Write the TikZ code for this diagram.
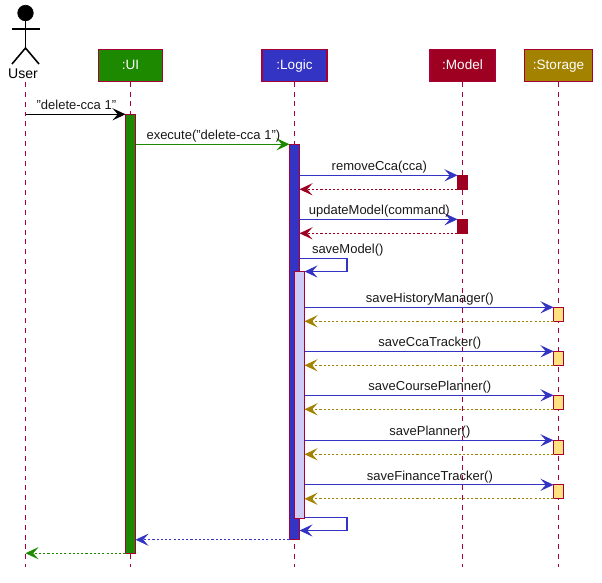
\documentclass[tikz,border=0pt]{standalone}
\usepackage{fontspec}
\setmainfont{Liberation Sans}
\usetikzlibrary{arrows.meta}
\definecolor{edgered}{HTML}{A80036}
\definecolor{uigreen}{HTML}{1D8900}
\definecolor{logicblue}{HTML}{3333C4}
\definecolor{logicpale}{HTML}{CCCCF7}
\definecolor{modelred}{HTML}{9D0020}
\definecolor{storegold}{HTML}{A38200}
\definecolor{storepale}{HTML}{FFE17F}
\tikzset{
	tip/.tip={Stealth[length=7.4pt,width=6.9pt,inset=3pt]},
	headbox/.style={draw=edgered,line width=0.8pt,text=white,minimum height=0.65cm,inner sep=0pt,outer sep=0pt,text height=6pt,text depth=1.6pt,font=\fontsize{7.7}{9}\selectfont},
	lifeline/.style={draw=edgered,line width=0.7pt,dash pattern=on 2.8pt off 2.8pt},
	bar/.style={draw=edgered,line width=0.7pt,minimum width=0.2cm,inner sep=0pt,outer sep=0pt,anchor=north},
	call/.style={line width=0.6pt,-tip},
	back/.style={line width=0.6pt,-tip,dash pattern=on 1.2pt off 1.2pt},
	msgtext/.style={text=black!90,inner sep=0pt,outer sep=0pt,text depth=1.6pt,font=\fontsize{7.4}{9}\selectfont},
	msg/.style={msgtext,above=0.95pt,midway,xshift=0.5pt}
}
\begin{document}
\begin{tikzpicture}[x=0.02cm,y=-0.02cm]
	\useasboundingbox (0,0) rectangle (602,582);
	
	\node[circle,fill=black,draw=black,minimum size=0.31cm,inner sep=0pt] at (25.5,13) (userhead) {};
	\coordinate (userhip) at (25.5,48);
	\coordinate (armleft) at (11.5,29);
	\coordinate (armright) at (39.5,29);
	\coordinate (footleft) at (12,64);
	\coordinate (footright) at (39,64);
	\draw[line width=0.9pt] (userhead) -- (userhip);
	\draw[line width=0.9pt] (armleft) -- (armright);
	\draw[line width=0.9pt] (footleft) -- (userhip) -- (footright);
	\node[inner sep=0pt,outer sep=0pt,font=\fontsize{8}{9}\selectfont] at (23,74) (user) {User};
	
	\node[headbox,fill=uigreen,minimum width=1.28cm] at (130.5,65.5) (ui) {:UI};
	\node[headbox,fill=logicblue,minimum width=1.3cm] at (294.5,65.5) (logic) {:Logic};
	\node[headbox,fill=modelred,minimum width=1.3cm] at (462.5,65.5) (model) {:Model};
	\node[headbox,fill=storegold,minimum width=1.37cm] at (558.5,65.5) (storage) {:Storage};
	
	\coordinate (userstart) at (25.5,82);
	\coordinate (userend) at (25.5,567);
	\coordinate (uiend) at (130.5,567);
	\coordinate (logicend) at (294.5,567);
	\coordinate (modelend) at (462.5,567);
	\coordinate (storageend) at (558.5,567);
	\draw[lifeline] (userstart) -- (userend);
	\draw[lifeline] (ui) -- (uiend);
	\draw[lifeline] (logic) -- (logicend);
	\draw[lifeline] (model) -- (modelend);
	\draw[lifeline] (storage) -- (storageend);
	
	\node[bar,fill=uigreen,minimum height=8.78cm] at (130.5,114.3) (uibar) {};
	\node[bar,fill=logicblue,minimum height=7.91cm] at (294.5,144.3) (logicbar) {};
	\node[bar,fill=logicpale,minimum height=4.94cm] at (299.5,271.5) (savebar) {};
	\node[bar,fill=modelred,draw=modelred,minimum height=0.28cm] at (462.5,175.3) (modelone) {};
	\node[bar,fill=modelred,draw=modelred,minimum height=0.28cm] at (462.5,219.3) (modeltwo) {};
	\node[bar,fill=storepale,minimum height=0.28cm] at (558.5,307.3) (storeone) {};
	\node[bar,fill=storepale,minimum height=0.28cm] at (558.5,351.3) (storetwo) {};
	\node[bar,fill=storepale,minimum height=0.28cm] at (558.5,395.3) (storethree) {};
	\node[bar,fill=storepale,minimum height=0.28cm] at (558.5,440.3) (storefour) {};
	\node[bar,fill=storepale,minimum height=0.28cm] at (558.5,484.8) (storefive) {};
	
	\draw[call,black] (userend |- uibar.north) -- node[msg] {"delete-cca 1"} (uibar.north west);
	\draw[call,uigreen] (uibar.east |- logicbar.north) -- node[msg] {execute("delete-cca 1")} (logicbar.north west);
	
	\draw[call,logicblue] (logicbar.east |- modelone.north) -- node[msg] {removeCca(cca)} (modelone.north west);
	\draw[back,modelred] (modelone.south west) -- (logicbar.east |- modelone.south);
	\draw[call,logicblue] (logicbar.east |- modeltwo.north) -- node[msg] {updateModel(command)} (modeltwo.north west);
	\draw[back,modelred] (modeltwo.south west) -- (logicbar.east |- modeltwo.south);
	
	\coordinate (selftop) at (347,258.5);
	\coordinate (selfbottom) at (347,271.5);
	\draw[call,logicblue] (logicbar.east |- selftop) -- (selftop) -- (selfbottom) -- (savebar.north east);
	\node[msgtext,anchor=south west] at (312,256.2) (savemodel) {saveModel()};
	
	\draw[call,logicblue] (savebar.east |- storeone.north) -- node[msg] {saveHistoryManager()} (storeone.north west);
	\draw[back,storegold] (storeone.south west) -- (savebar.east |- storeone.south);
	\draw[call,logicblue] (savebar.east |- storetwo.north) -- node[msg] {saveCcaTracker()} (storetwo.north west);
	\draw[back,storegold] (storetwo.south west) -- (savebar.east |- storetwo.south);
	\draw[call,logicblue] (savebar.east |- storethree.north) -- node[msg] {saveCoursePlanner()} (storethree.north west);
	\draw[back,storegold] (storethree.south west) -- (savebar.east |- storethree.south);
	\draw[call,logicblue] (savebar.east |- storefour.north) -- node[msg] {savePlanner()} (storefour.north west);
	\draw[back,storegold] (storefour.south west) -- (savebar.east |- storefour.south);
	\draw[call,logicblue] (savebar.east |- storefive.north) -- node[msg] {saveFinanceTracker()} (storefive.north west);
	\draw[back,storegold] (storefive.south west) -- (savebar.east |- storefive.south);
	
	\coordinate (endtop) at (347,517.5);
	\coordinate (endbottom) at (347,530.5);
	\draw[call,logicblue] (savebar.east |- endtop) -- (endtop) -- (endbottom) -- (logicbar.east |- endbottom);
	
	\draw[back,logicblue] (logicbar.south west) -- (uibar.east |- logicbar.south);
	\draw[back,uigreen] (uibar.south west) -- (userend |- uibar.south);
\end{tikzpicture}
\end{document}
